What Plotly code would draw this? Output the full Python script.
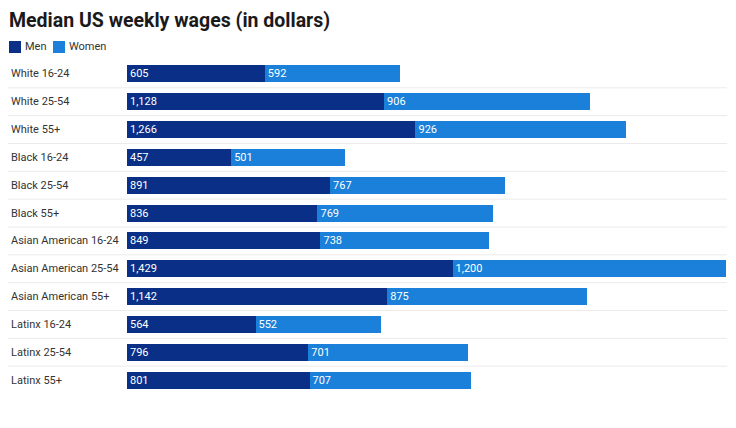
import plotly.graph_objects as go

categories = ["White 16-24", "White 25-54", "White 55+",
              "Black 16-24", "Black 25-54", "Black 55+",
              "Asian American 16-24", "Asian American 25-54", "Asian American 55+",
              "Latinx 16-24", "Latinx 25-54", "Latinx 55+"]
men = [605, 1128, 1266, 457, 891, 836, 849, 1429, 1142, 564, 796, 801]
women = [592, 906, 926, 501, 767, 769, 738, 1200, 875, 552, 701, 707]
series_names = ["Men", "Women"]

MEN_COLOR = "#0a2f87"
WOMEN_COLOR = "#1a80d9"
FONT = "Roboto"
W, H = 736, 428
ML, MR, MT, MB = 127, 10, 60, 34
PW, PH = W - ML - MR, H - MT - MB

def fmt(v):
    return f"{v:,}"

def px_x(px):
    return (px - ML) / PW

def px_y(py):
    return 1 - (py - MT) / PH

fig = go.Figure()
for name, vals, col in [(series_names[0], men, MEN_COLOR), (series_names[1], women, WOMEN_COLOR)]:
    fig.add_trace(go.Bar(
        y=categories, x=vals, name=name, orientation="h",
        marker=dict(color=col, line=dict(width=0)),
        text=[fmt(v) for v in vals], textposition="inside", insidetextanchor="start",
        textfont=dict(color="white", size=11, family=FONT), constraintext="none",
        hoverinfo="skip", showlegend=False,
    ))

totals = [m + w for m, w in zip(men, women)]
xmax = max(totals)

shapes = []
for i in range(len(categories) - 1):
    shapes.append(dict(type="line", xref="paper", yref="y",
                       x0=px_x(8), x1=px_x(727), y0=i + 0.5, y1=i + 0.5,
                       line=dict(color="#ebebeb", width=1), layer="below"))

annotations = []
for c in categories:
    annotations.append(dict(xref="paper", yref="y", x=px_x(9), y=c, text=c,
                            showarrow=False, xanchor="left", yanchor="middle",
                            font=dict(family=FONT, size=11, color="#333333")))

# manual legend
leg_items = [(series_names[0], MEN_COLOR, 9), (series_names[1], WOMEN_COLOR, 53)]
for name, col, x0 in leg_items:
    shapes.append(dict(type="rect", xref="paper", yref="paper",
                       x0=px_x(x0), x1=px_x(x0 + 12), y0=px_y(41), y1=px_y(53),
                       fillcolor=col, line=dict(width=0)))
    annotations.append(dict(xref="paper", yref="paper", x=px_x(x0 + 14), y=px_y(47),
                            text=name, showarrow=False, xanchor="left", yanchor="middle",
                            font=dict(family=FONT, size=11, color="#333333")))

fig.update_layout(
    width=W, height=H,
    margin=dict(l=ML, r=MR, t=MT, b=MB, autoexpand=False),
    barmode="stack", bargap=0.39,
    paper_bgcolor="white", plot_bgcolor="white",
    font=dict(family=FONT, size=11, color="#333333"),
    title=dict(text="<b>Median US weekly wages (in dollars)</b>",
               xref="container", yref="container", x=9 / W, xanchor="left",
               y=1 - 20 / H, yanchor="middle",
               pad=dict(l=0, r=0, t=0, b=0),
               font=dict(family=FONT, size=19.5, color="#1a1a1a")),
    showlegend=False,
    xaxis=dict(range=[0, xmax], showgrid=False, zeroline=False,
               showticklabels=False, fixedrange=True),
    yaxis=dict(autorange="reversed", showgrid=False, zeroline=False,
               showticklabels=False, ticks="", fixedrange=True),
    shapes=shapes, annotations=annotations,
)

fig.write_html("out.html",
               config={"displayModeBar": False, "staticPlot": True},
               post_script="document.body.style.margin='0';document.body.style.overflow='hidden';")
